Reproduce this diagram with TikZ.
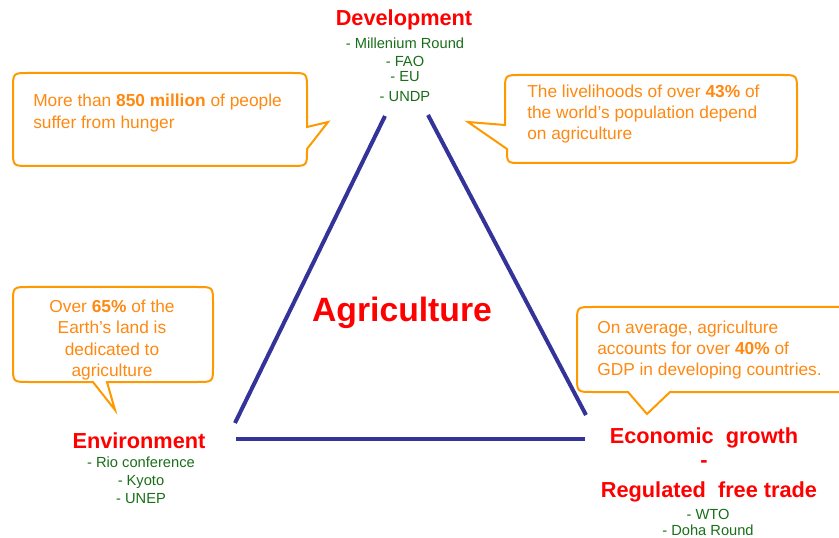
\documentclass[tikz,border=0pt]{standalone}
\usepackage{fontspec}
\setmainfont{Liberation Sans}
\usepackage{tikz}

\begin{document}
\begin{tikzpicture}[x=0.75pt,y=-0.75pt,
  side/.style={line width=3pt,color=sideColor},
  bubble/.style={line width=1.5pt,color=bubbleColor},
  fact/.style={text=factColor,inner sep=0pt,font=\fontsize{13}{16}\selectfont},
  head/.style={text=headColor,inner sep=0pt,font=\fontsize{16.3}{19}\selectfont\bfseries},
  item/.style={text=itemColor,inner sep=0pt,font=\fontsize{11}{13}\selectfont}]
\definecolor{sideColor}{RGB}{51,51,153}
\definecolor{bubbleColor}{RGB}{255,153,0}
\definecolor{factColor}{RGB}{255,136,17}
\definecolor{headColor}{RGB}{255,0,0}
\definecolor{itemColor}{RGB}{25,110,25}
\useasboundingbox (0,0) rectangle (839,538);
\clip (0,0) rectangle (839,538);
% triangle
\coordinate (devL) at (385,116);
\coordinate (devR) at (428,115);
\coordinate (envT) at (235,423);
\coordinate (ecoT) at (586,415);
\coordinate (envB) at (236,439);
\coordinate (ecoB) at (585,439);
\draw[side] (devL) -- (envT);
\draw[side] (devR) -- (ecoT);
\draw[side] (envB) -- (ecoB);
\node[text=headColor,inner sep=0pt,font=\fontsize{25.3}{30}\selectfont\bfseries] (agri) at (402,313) {Agriculture};
% callouts
\draw[bubble] (13,89) .. controls (13,73) .. (29,73) -- (291,73) .. controls (307,73) .. (307,89) -- (307,127) -- (328,122) -- (307,149) -- (307,150) .. controls (307,166) .. (291,166) -- (29,166) .. controls (13,166) .. (13,150) -- cycle;
\node[fact,anchor=west,align=left] (hunger) at (33,113) {More than \textbf{850 million} of people\\suffer from hunger};
\draw[bubble] (505,91) .. controls (505,75) .. (521,75) -- (781,75) .. controls (797,75) .. (797,91) -- (797,147) .. controls (797,163) .. (781,163) -- (521,163) .. controls (507,163) .. (507,149) -- (468,122) -- (505,125) -- cycle;
\node[fact,anchor=west,align=left] (living) at (527,114) {The livelihoods of over \textbf{43\%} of\\the world’s population depend\\on agriculture};
\draw[bubble] (13,303) .. controls (13,287) .. (29,287) -- (197,287) .. controls (213,287) .. (213,303) -- (213,366) .. controls (213,382) .. (197,382) -- (107,382) -- (115,410) -- (93,382) -- (29,382) .. controls (13,382) .. (13,366) -- cycle;
\node[fact,align=center] (land) at (112,340) {Over \textbf{65\%} of the\\Earth’s land is\\dedicated to\\agriculture};
\draw[bubble] (577,323) .. controls (577,307) .. (593,307) -- (850,307) -- (850,392) -- (670,392) -- (647,414) -- (628,392) -- (593,392) .. controls (577,392) .. (577,376) -- cycle;
\node[fact,anchor=west,align=left] (gdp) at (597,350) {On average, agriculture\\accounts for over \textbf{40\%} of\\GDP in developing countries.};
% corners
\node[head] (dev) at (404,20) {Development};
\foreach \t/\y [count=\i] in {Millenium Round/43,FAO/61,EU/77,UNDP/97}
  \node[item] (dev\i) at (405,\y) {- \t};
\node[head] (env) at (139,441) {Environment};
\foreach \t/\y [count=\i] in {Rio conference/462,Kyoto/482,UNEP/499}
  \node[item] (env\i) at (141,\y) {- \t};
\node[head] (eco) at (704,438) {Economic\ \ growth};
\node[head] (ecoDash) at (704,464) {-};
\node[head] (trade) at (709,492) {Regulated\ \ free trade};
\foreach \t/\y [count=\i] in {WTO/514,Doha Round/530}
  \node[item] (trade\i) at (708,\y) {- \t};
\end{tikzpicture}
\end{document}
